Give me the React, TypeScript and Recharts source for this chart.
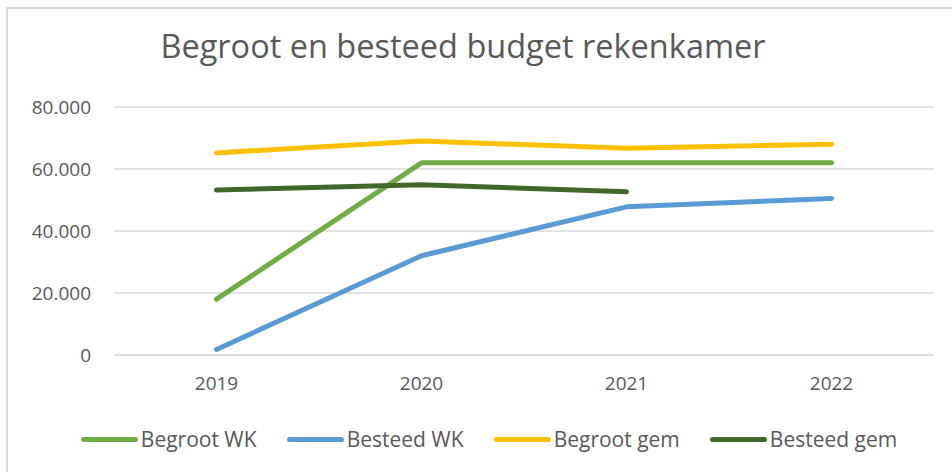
import { LineChart, Line, XAxis, YAxis, CartesianGrid } from 'recharts'

const years = ['2019', '2020', '2021', '2022']
const begrootWK = [18000, 62000, 62000, 62000]
const besteedWK = [1800, 32000, 47800, 50500]
const begrootGem = [65200, 69000, 66700, 68000]
const besteedGem = [53200, 54900, 52700, null]
const yTicks = [0, 20000, 40000, 60000, 80000]

const series = [
  { key: 'begrootWK', name: 'Begroot WK', color: '#70AD47' },
  { key: 'besteedWK', name: 'Besteed WK', color: '#5B9BD5' },
  { key: 'begrootGem', name: 'Begroot gem', color: '#FFC000' },
  { key: 'besteedGem', name: 'Besteed gem', color: '#43682B' },
]

const chartData = years.map((year, i) => ({
  year,
  begrootWK: begrootWK[i],
  besteedWK: besteedWK[i],
  begrootGem: begrootGem[i],
  besteedGem: besteedGem[i],
}))

const font = '"Open Sans", "Noto Sans", sans-serif'
const textColor = '#595959'

// dutch thousands separator
const fmt = (v: number) => (v === 0 ? '0' : v.toLocaleString('de-DE'))

function ChartLegend() {
  return (
    <div style={{ position: 'absolute', left: 13, top: 424, width: 952, height: 30, display: 'flex', justifyContent: 'center', alignItems: 'center', gap: 30 }}>
      {series.map((s) => (
        <div key={s.key} style={{ display: 'flex', alignItems: 'center' }}>
          <div style={{ width: 57, height: 5, borderRadius: 3, background: s.color, marginRight: 3 }} />
          <span style={{ color: textColor, fontSize: 21, fontFamily: font }}>{s.name}</span>
        </div>
      ))}
    </div>
  )
}

export default function App() {
  return (
    <div style={{ position: 'absolute', left: 0, top: 0, width: 952, height: 472, background: '#fff', overflow: 'hidden', fontFamily: font }}>
      <div style={{ position: 'absolute', left: 6, top: 7, width: 960, height: 480, borderLeft: '2px solid #d9d9d9', borderTop: '2px solid #d9d9d9' }} />
      <div style={{ position: 'absolute', left: 0, top: 24, width: 926, textAlign: 'center', fontSize: 32.5, color: textColor, lineHeight: '44px' }}>
        Begroot en besteed budget rekenkamer
      </div>
      <LineChart width={952} height={472} data={chartData} margin={{ top: 107, right: 18, left: 0, bottom: 87 }} style={{ position: 'absolute', left: 0, top: 0 }}>
        <CartesianGrid vertical={false} stroke="#d9d9d9" strokeWidth={1.5} />
        <XAxis
          dataKey="year"
          height={30}
          padding={{ left: 102.5, right: 102.5 }}
          axisLine={{ stroke: '#d9d9d9', strokeWidth: 1.5 }}
          tickLine={false}
          tickSize={0}
          tickMargin={22}
          tick={{ fill: textColor, fontSize: 19, fontFamily: font }}
        />
        <YAxis
          width={114}
          domain={[0, 80000]}
          ticks={yTicks}
          tickFormatter={fmt}
          axisLine={false}
          tickLine={false}
          tickSize={0}
          tickMargin={23}
          tick={{ fill: textColor, fontSize: 19, fontFamily: font }}
        />
        {series.map((s) => (
          <Line
            key={s.key}
            type="linear"
            dataKey={s.key}
            name={s.name}
            stroke={s.color}
            strokeWidth={5}
            strokeLinecap="round"
            strokeLinejoin="round"
            dot={false}
            activeDot={false}
            isAnimationActive={false}
          />
        ))}
      </LineChart>
      <ChartLegend />
    </div>
  )
}
